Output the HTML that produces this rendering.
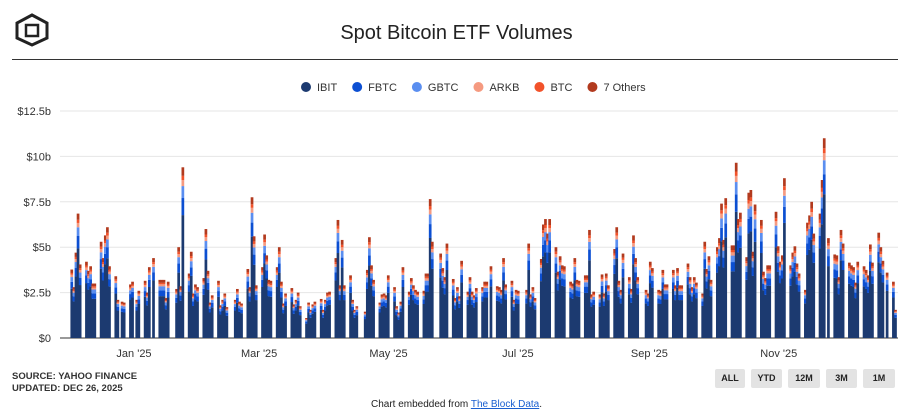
<!DOCTYPE html>
<html><head><meta charset="utf-8"><style>
body{margin:0;width:913px;height:418px;background:#fff;font-family:"Liberation Sans",Arial,sans-serif;overflow:hidden;position:relative}
.btn{position:absolute;top:369px;height:19px;background:#e3e3e3;border-radius:2px;font-size:9px;font-weight:bold;color:#222;text-align:center;line-height:19px}
</style></head><body>
<svg style="position:absolute;left:14px;top:13px" width="36" height="34" viewBox="0 0 36 34">
<polygon points="18,2 33,10 33,25 18,32 3,25 3,10" fill="none" stroke="#222" stroke-width="3"/>
<rect x="12" y="12" width="12" height="11" fill="none" stroke="#222" stroke-width="2.5"/>
</svg>
<div style="position:absolute;left:0;width:913px;top:22px;text-align:center;font-size:20px;color:#222">Spot Bitcoin ETF Volumes</div>
<div style="position:absolute;left:12px;width:886px;top:59px;height:1px;background:#333"></div>
<svg id="chart" width="913" height="418" style="position:absolute;left:0;top:0"></svg>
<div style="position:absolute;left:12px;top:371px;font-size:9.5px;font-weight:bold;color:#333;line-height:12px">SOURCE: YAHOO FINANCE<br>UPDATED: DEC 26, 2025</div>
<div class="btn" style="left:715px;width:30px">ALL</div>
<div class="btn" style="left:751px;width:31px">YTD</div>
<div class="btn" style="left:788px;width:32px">12M</div>
<div class="btn" style="left:826px;width:31px">3M</div>
<div class="btn" style="left:863px;width:32px">1M</div>
<div style="position:absolute;left:0;width:913px;top:399px;text-align:center;font-size:10px;color:#222">Chart embedded from <span style="color:#1a5fd0;text-decoration:underline">The Block Data</span>.</div>
<script>
const seriesNames=["IBIT","FBTC","GBTC","ARKB","BTC","7 Others"];
const seriesColors=["#1c3a70","#0c4fd2","#5a8ef0","#f59a80","#f2522a","#b23a1e"];
const seriesShares=[0.72,0.10,0.07,0.035,0.025,0.05];
const totals=[3.77,2.8,4.7,6.85,4.05,4.2,3.7,3.95,3.0,3.0,5.3,4.4,5.65,6.1,3.95,3.4,2.1,2.0,1.95,2.95,3.1,2.1,2.6,3.15,2.5,3.9,4.4,3.2,3.2,3.2,2.2,3.1,2.7,5.0,2.85,9.4,3.55,4.75,2.45,2.95,2.8,3.3,6.0,3.7,1.95,2.35,3.15,1.8,2.1,2.45,1.7,2.1,2.7,2.0,1.9,3.8,2.8,7.75,5.6,2.9,3.9,5.7,4.55,3.2,3.15,3.9,
5.0,3.1,1.9,2.45,2.75,1.85,2.1,2.5,1.75,1.1,1.95,1.55,1.85,2.0,2.15,1.55,2.1,2.5,2.55,4.4,6.5,2.9,5.4,2.9,3.45,2.1,1.55,1.75,1.45,3.75,5.55,4.0,3.2,1.95,2.4,2.45,2.35,3.45,2.8,1.75,1.4,2.0,3.9,2.55,3.3,2.9,2.65,2.55,2.6,3.55,3.55,7.65,5.3,4.65,3.85,3.35,5.2,3.25,2.2,2.8,2.3,4.25,2.55,3.35,2.55,2.35,2.75,
2.8,3.1,3.1,3.95,2.85,2.8,2.65,4.4,2.95,3.15,2.1,2.65,2.6,2.65,5.2,2.4,2.8,2.2,4.35,6.25,6.55,5.75,6.55,5.0,3.65,4.5,4.0,3.95,3.1,3.0,4.4,3.2,3.15,3.45,3.45,5.95,2.4,2.55,2.4,3.5,2.45,3.55,2.9,4.9,6.1,3.15,2.65,4.65,3.35,2.7,5.65,4.4,3.35,2.65,2.45,4.2,3.85,2.65,2.6,3.75,2.95,2.95,3.75,2.9,3.85,
2.9,2.9,4.1,3.35,2.8,3.35,3.05,2.45,5.3,3.8,4.5,3.2,5.0,5.5,7.4,5.4,7.7,5.1,5.1,9.65,6.55,6.9,4.45,8.0,8.15,4.75,7.35,6.5,3.65,3.3,4.0,4.0,6.95,5.05,4.2,4.55,8.8,4.0,4.7,5.05,4.1,3.55,2.65,6.35,6.75,7.5,5.75,6.85,8.7,11.0,5.5,4.6,4.55,3.35,5.95,5.2,4.15,4.0,3.9,3.05,4.2,3.95,3.75,3.45,5.15,4.15,5.8,5.0,4.25,3.6,3.1,1.55];
const yTicks=[0,2.5,5,7.5,10,12.5];
const yTickLabels=["$0","$2.5b","$5b","$7.5b","$10b","$12.5b"];
const xTickDates=["2025-01-01","2025-03-01","2025-05-01","2025-07-01","2025-09-01","2025-11-01"];
const xTickLabels=["Jan '25","Mar '25","May '25","Jul '25","Sep '25","Nov '25"];
const holidays=["2024-12-25","2025-01-01","2025-01-09","2025-01-20","2025-02-17","2025-04-18","2025-05-26","2025-06-19","2025-07-04","2025-09-01","2025-11-27","2025-12-25"];
const startDate="2024-12-02";

const NS="http://www.w3.org/2000/svg";
const svg=document.getElementById('chart');
const y0=338,yPer=(338-111)/12.5;
const DAY=86400000,jan1=Date.UTC(2025,0,1),pxDay=2.096;
const yScale=v=>y0-v*yPer;
const xScale=t=>134.6+(t-jan1)/DAY*pxDay;
const xLabelScale=t=>134+(t-jan1)/DAY*2.121;
function mk(tag,attrs){const e=document.createElementNS(NS,tag);for(const k in attrs)e.setAttribute(k,attrs[k]);svg.appendChild(e);return e;}
yTicks.forEach((v,i)=>{
  const g=mk('line',{x1:60,x2:898,y1:yScale(v),y2:yScale(v),stroke:i==0?'#333':'#e6e6e6','stroke-width':1});
  
  
  const t=mk('text',{x:51,y:yScale(v)+4,'text-anchor':'end','font-size':11,fill:'#333'});
  t.textContent=yTickLabels[i];
  
  
});
xTickDates.forEach((d,i)=>{
  const t=mk('text',{x:xLabelScale(Date.parse(d)),y:357,'text-anchor':'middle','font-size':11,fill:'#333'});
  t.textContent=xTickLabels[i];
  
  
});
const days=[];let t=Date.parse(startDate);
while(days.length<totals.length){const d=new Date(t);const wd=d.getUTCDay();const s=d.toISOString().slice(0,10);if(wd>0&&wd<6&&!holidays.includes(s))days.push(t);t+=DAY;}
totals.forEach((tot,i)=>{
  const x=xScale(days[i]);if(x>897)return;
  let acc=0;
  seriesShares.forEach((sh,k)=>{
    const v=tot*sh;const r=mk('rect',{x:x-1.3,width:2.7,y:yScale(acc+v),height:v*yPer,fill:seriesColors[k]});
    
    
    acc+=v;
  });
});
let lx=301;
seriesNames.forEach((n,k)=>{
  const c=mk('circle',{cx:lx+5,cy:87,r:5,fill:seriesColors[k]});
  
  
  const tx=mk('text',{x:lx+16,y:91,'font-size':11,fill:'#333'});
  tx.textContent=n;
  
  
  lx+=16+tx.getComputedTextLength()+15;
});
</script>
</body></html>
